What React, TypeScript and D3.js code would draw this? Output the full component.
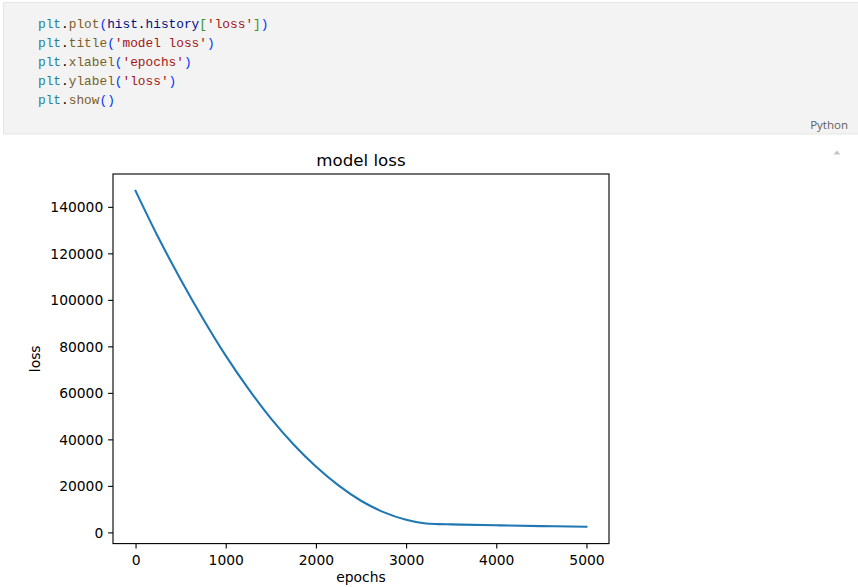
import React, { useEffect, useRef } from 'react';
import * as d3 from 'd3';

// loss values
const epochs = [0, 250, 500, 750, 1000, 1250, 1500, 1750, 2000, 2250, 2500, 2750, 3000, 3200, 3350, 3500, 4000, 4500, 5000];
const lossValues = [146900, 127000, 108800, 91800, 76000, 61800, 49000, 37900, 28300, 20200, 13600, 8700, 5400, 3900, 3550, 3430, 3050, 2700, 2400];
const xTicks = [0, 1000, 2000, 3000, 4000, 5000];
const yTicks = [0, 20000, 40000, 60000, 80000, 100000, 120000, 140000];

const codeLines = [
  [['plt', '#267f99'], ['.', '#000'], ['plot', '#795e26'], ['(', '#0431fa'], ['hist', '#001080'], ['.', '#000'], ['history', '#001080'], ['[', '#319331'], ["'loss'", '#a31515'], [']', '#319331'], [')', '#0431fa']],
  [['plt', '#267f99'], ['.', '#000'], ['title', '#795e26'], ['(', '#0431fa'], ["'model loss'", '#a31515'], [')', '#0431fa']],
  [['plt', '#267f99'], ['.', '#000'], ['xlabel', '#795e26'], ['(', '#0431fa'], ["'epochs'", '#a31515'], [')', '#0431fa']],
  [['plt', '#267f99'], ['.', '#000'], ['ylabel', '#795e26'], ['(', '#0431fa'], ["'loss'", '#a31515'], [')', '#0431fa']],
  [['plt', '#267f99'], ['.', '#000'], ['show', '#795e26'], ['()', '#0431fa']],
];

function App() {
  const svgRef = useRef(null);

  useEffect(() => {
    const svg = d3.select(svgRef.current);
    svg.selectAll('*').remove();

    // notebook code cell
    svg.append('rect')
      .attr('x', 3.5).attr('y', 2.5)
      .attr('width', 870).attr('height', 131.5)
      .attr('fill', '#f3f3f3').attr('stroke', '#e5e5e5');

    codeLines.forEach((line, i) => {
      const t = svg.append('text')
        .attr('x', 38).attr('y', 28 + i * 19)
        .attr('font-family', '"Liberation Mono", "DejaVu Sans Mono", monospace')
        .attr('font-size', 12.8)
        .attr('xml:space', 'preserve');
      line.forEach(([s, c]) => t.append('tspan').attr('fill', c).text(s));
    });

    svg.append('text')
      .attr('x', 848).attr('y', 128.5)
      .attr('text-anchor', 'end')
      .attr('font-family', '"Open Sans", "Noto Sans", sans-serif')
      .attr('font-size', 11.5)
      .attr('fill', '#616161')
      .text('Python');

    svg.append('path')
      .attr('d', 'M833.5,154.5 L837,150.5 L840.5,154.5 Z')
      .attr('fill', '#c5c5c5');

    // matplotlib figure
    const margin = { left: 113, top: 174, right: 609, bottom: 543.6 };
    const x = d3.scaleLinear().domain([-250, 5250]).range([margin.left, margin.right]);
    const y = d3.scaleLinear().domain([-4825, 154125]).range([margin.bottom, margin.top]);
    const font = '"DejaVu Sans", sans-serif';

    const line = d3.line()
      .x((d, i) => x(epochs[i]))
      .y((d) => y(d))
      .curve(d3.curveMonotoneX);

    svg.append('path')
      .datum(lossValues)
      .attr('d', line)
      .attr('fill', 'none')
      .attr('stroke', '#1f77b4')
      .attr('stroke-width', 2.08)
      .attr('stroke-linecap', 'square');

    const xAxis = svg.append('g')
      .attr('transform', `translate(0,${margin.bottom})`)
      .call(d3.axisBottom(x).tickValues(xTicks).tickSize(4.86).tickPadding(4.86).tickFormat(d3.format('d')));
    const yAxis = svg.append('g')
      .attr('transform', `translate(${margin.left},0)`)
      .call(d3.axisLeft(y).tickValues(yTicks).tickSize(4.86).tickPadding(4.86).tickFormat(d3.format('d')));

    [xAxis, yAxis].forEach((g) => {
      g.select('.domain').remove();
      g.selectAll('line').attr('stroke', '#000').attr('stroke-width', 1.11);
      g.selectAll('text')
        .attr('font-family', font)
        .attr('font-size', 13.89)
        .attr('fill', '#000');
    });
    xAxis.selectAll('text').attr('dy', null).attr('y', 21);
    yAxis.selectAll('text').attr('dy', '0.36em');

    svg.append('rect')
      .attr('x', margin.left).attr('y', margin.top)
      .attr('width', margin.right - margin.left)
      .attr('height', margin.bottom - margin.top)
      .attr('fill', 'none')
      .attr('stroke', '#000')
      .attr('stroke-width', 1.11);

    svg.append('text')
      .attr('x', (margin.left + margin.right) / 2).attr('y', 165.7)
      .attr('text-anchor', 'middle')
      .attr('font-family', font).attr('font-size', 16.67)
      .text('model loss');

    svg.append('text')
      .attr('x', (margin.left + margin.right) / 2).attr('y', 581.5)
      .attr('text-anchor', 'middle')
      .attr('font-family', font).attr('font-size', 13.89)
      .text('epochs');

    svg.append('text')
      .attr('transform', `translate(39.5,${(margin.top + margin.bottom) / 2}) rotate(-90)`)
      .attr('text-anchor', 'middle')
      .attr('font-family', font).attr('font-size', 13.89)
      .text('loss');
  }, []);

  return (
    <svg
      ref={svgRef}
      width={858}
      height={587}
      style={{ position: 'absolute', left: 0, top: 0, background: '#fff' }}
    />
  );
}

export default App;
